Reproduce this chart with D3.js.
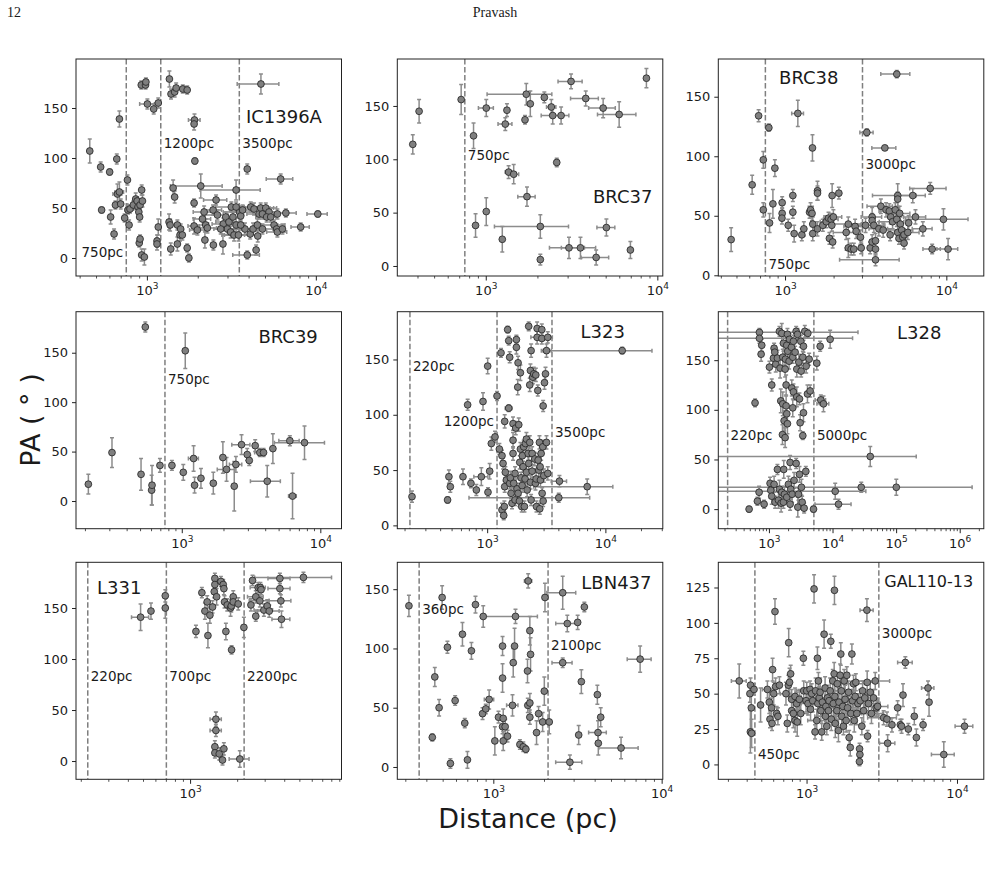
<!DOCTYPE html>
<html>
<head>
<meta charset="utf-8">
<script src="https://cdn.jsdelivr.net/npm/d3@7"></script>
<style>
  body { margin: 0; background: #fff; }
  text { font-family: "DejaVu Sans", sans-serif; fill: #1a1a1a; }
  .serif { font-family: "Liberation Serif", "DejaVu Serif", serif; }
</style>
</head>
<body>
<svg id="fig" width="990" height="871"></svg>
<script>
// each point: [distance (pc), PA (deg), distance error, PA error]
var ic1396a = [
  [456,107,0,12],[529,91,0,5],[598,86,0,3],[659,99,0,5],[683,139,0,8],
  [536,48,0,3],[606,41,0,7],[635,24,0,5],[647,53,0,4],[665,64,40,10],[683,66,40,10],[695,54,0,5],
  [734,40,0,4],[762,78,0,5],[768,48,30,4],[779,33,0,5],[789,49,40,4],[826,53,60,4],[853,59,0,6],
  [870,57,0,4],[880,51,0,4],[890,46,0,5],[900,41,0,5],[905,53,0,6],[925,68,0,5],[935,57,0,6],
  [895,15,0,4],[905,19,0,4],[925,3,0,6],[960,1,0,8],
  [920,173,0,4],[975,173,0,4],[980,176,0,4],[1000,154,100,5],[1090,149,0,5],[1160,155,0,5],
  [1140,17,0,6],[1140,14,0,6],[1160,31,0,8],
  [1350,179,0,8],[1380,164,0,5],[1450,166,0,5],[1480,170,0,5],[1620,169,0,4],[1720,168,0,4],
  [1900,138,150,6],[1890,134,0,6],[1910,97,0,3],
  [1420,70,0,8],[1450,61,0,6],[1890,55,0,4],[2070,72,700,12],[2550,58,400,5],[3350,68,1300,10],
  [3900,89,0,5],[6150,79,1100,5],[10200,44,1400,3],[8080,31,1000,4],[4700,174,1300,10],
  [3900,3,700,4],[4400,8,0,5],[4500,22,0,6],[1720,10,0,4],[1760,0,0,4],
  [1344,36,0,8],[1363,33,0,6],[1375,9,0,6],[1505,14,0,7],[1505,33,0,5],[1560,23,0,6],[1574,29,0,5],[1610,23,0,5],
  [1889,32,150,8],[1977,28,200,5],[2118,39,250,6],[2167,46,300,6],[2215,33,0,6],[2265,30,300,5],[2190,18,0,8],
  [2458,13,0,5],[2448,48,300,5],[2597,43,400,5],[2800,14,0,10],[2815,34,400,6],[2975,29,500,6],[3110,26,0,6],
  [3258,23,500,6],[3140,51,600,5],[3350,33,0,7],[3460,23,600,6],[3510,46,700,6],[3568,42,0,6],[3660,48,600,5],
  [3780,29,700,6],[4060,24,0,5],[4090,51,800,5],[4278,49,0,6],[4220,29,600,6],[4480,33,0,6],[4580,44,700,5],
  [4686,50,900,5],[4800,44,0,5],[5020,50,800,5],[5250,46,0,5],[5080,41,700,5],[5370,41,0,5],[5620,33,900,5],
  [5820,29,0,5],[5880,26,800,5],[6300,29,0,5],[5880,44,0,5],[6600,45,1000,4],[4800,29,1000,5],
  [3568,33,0,5],[2717,29,0,5],[2910,41,0,5],[3040,36,500,5],[3210,41,0,5],[3350,51,0,5]
];

var brc37 = [
  [373,114,0,9],[406,145,0,11],[714,156,0,14],[843,122,0,12],[866,38,0,11],[1000,148,100,8],[1000,51,0,13],
  [1240,25,0,12],[1291,133,120,6],[1320,146,0,6],[1350,88,60,6],[1445,86,100,9],[1682,137,0,4],
  [1711,161,700,10],[1806,152,0,12],[1727,65,200,9],[2066,37,950,11],[2066,6,0,5],[2180,158,0,5],
  [2395,149,150,7],[2440,141,350,8],[2575,97,0,4],[2730,141,300,8],[3120,173,500,7],[3035,17,700,10],
  [3540,17,800,10],[3800,157,700,7],[4370,8,800,7],[4800,148,850,9],[5015,36,600,8],[5950,142,1500,12],
  [6920,15,0,8],[8580,176,0,9]
];

var brc38 = [
  [460,30,0,10],[621,76,0,8],[681,134,0,5],[728,97,0,7],[728,55,0,6],[788,124,0,3],[796,44,0,8],[835,60,0,12],
  [859,90,0,7],[953,61,0,5],[953,52,0,5],[950,48,0,5],[1039,42,0,5],[1110,67,0,5],[1110,53,0,5],[1131,35,0,7],
  [1192,136,100,11],[1262,34,0,5],[1299,39,0,6],[1409,53,0,5],[1430,55,0,6],[1469,107,0,11],[1460,52,0,6],
  [1475,43,0,6],[1475,35,0,6],[1578,71,0,8],[1578,69,0,6],[1578,39,0,6],[1703,42,0,5],[1790,45,150,5],
  [1848,48,0,5],[1871,31,0,5],[1917,47,200,5],[1935,42,0,5],[1945,67,0,10],[1980,49,250,6],[1960,28,0,5],
  [2141,69,0,5],[2377,36,400,6],[2450,43,500,6],[2450,23,0,8],[2553,22,0,5],[2650,22,300,5],[2700,41,400,6],
  [2740,37,0,6],[2915,32,0,6],[2945,23,0,5],[3134,42,500,6],[3190,120,300,3],[3347,23,0,5],[3443,49,500,8],
  [3443,46,0,6],[3443,28,0,6],[3530,42,600,6],[3613,13,1450,5],[3613,22,0,5],[3613,29,0,6],[3791,39,500,6],
  [3900,58,700,6],[4030,38,0,6],[4128,107,700,2],[4200,55,0,6],[4400,54,600,6],[4450,34,0,5],[4490,49,0,6],
  [4610,45,800,6],[4790,55,0,6],[4895,169,1000,3],[4895,47,0,6],[4960,67,1500,10],[4960,64,0,6],[4960,36,0,6],
  [5050,31,0,5],[5100,52,800,6],[5150,43,0,6],[5250,38,900,6],[5333,32,0,5],[5430,34,0,5],[5727,36,1000,6],
  [5800,44,0,6],[6150,67,1200,6],[6390,49,1000,6],[5430,27,0,5],[7100,39,1000,6],[7887,73,2000,5],
  [8110,22,1000,4],[9530,47,4000,9],[10180,22,1500,9]
];

var brc39 = [
  [210,17,0,10],[311,49,0,15],[541,176,0,5],[504,27,0,16],[601,11,0,15],[605,16,0,20],[690,36,0,7],
  [842,36,0,5],[1017,29,0,8],[1051,152,0,18],[1207,43,100,13],[1227,16,0,8],[1364,23,0,10],[1675,18,0,11],
  [1964,44,0,16],[2088,32,300,12],[2372,15,0,25],[2438,37,250,8],[2677,57,400,10],[2943,47,0,6],
  [3044,41,0,5],[3360,56,0,6],[3630,49,300,4],[3860,49,0,4],[4104,20,1000,16],[4508,53,0,15],
  [5976,61,1000,5],[6250,5,400,23],[7625,59,3000,17]
];

var l323 = [
  [229,26,0,5],[458,23,0,3],[470,44,0,6],[483,35,0,5],[618,44,0,7],[677,109,0,5],[722,38,0,4],[802,32,0,5],
  [884,44,120,8],[913,112,0,8],[1000,144,0,7],[1006,30,0,4],[1040,49,0,7],[1074,74,0,6],[1154,80,0,5],
  [1200,117,0,4],[1256,69,0,5],[1297,156,0,4],[1322,63,0,5],[1349,56,0,5],[1322,14,0,6],[1367,9,0,4],
  [1384,17,0,5],[1393,35,0,5],[1393,94,0,6],[1411,48,0,5],[1439,41,0,5],[1476,177,0,3],[1507,167,0,4],
  [1536,152,0,5],[1507,106,100,3],[1536,38,0,5],[1556,43,0,6],[1577,29,0,5],[1607,20,0,5],[1639,92,0,6],
  [1639,77,0,7],[1639,65,0,6],[1660,38,0,5],[1705,47,0,6],[1705,23,0,5],[1727,88,0,6],[1750,168,0,4],
  [1750,161,0,6],[1772,33,0,5],[1796,125,0,7],[1808,29,0,5],[1808,147,0,6],[1832,91,0,6],[1856,22,0,5],
  [1868,57,0,6],[1892,138,0,7],[1892,69,0,6],[1917,43,150,5],[1942,17,0,5],[1955,36,0,6],[1967,63,0,6],
  [1994,53,0,5],[2019,71,0,6],[2046,17,0,5],[2073,42,0,6],[2086,74,0,6],[2128,78,0,6],[2128,48,0,6],
  [2157,32,0,6],[2200,65,0,6],[2224,56,0,6],[2270,75,0,6],[2224,180,0,4],[2270,127,0,6],[2300,140,0,6],
  [2300,39,0,6],[2330,158,0,6],[2330,23,0,5],[2377,49,0,6],[2377,65,0,6],[2408,134,0,6],[2455,137,0,6],
  [2505,60,0,6],[2537,38,0,6],[2554,136,0,6],[2570,42,0,6],[2588,17,0,5],[2620,178,0,6],[2620,170,300,6],
  [2655,122,0,5],[2672,59,0,6],[2706,50,0,6],[2742,75,0,6],[2760,15,0,5],[2778,53,0,6],[2796,41,0,6],
  [2833,65,0,6],[2870,177,0,5],[2870,169,0,5],[2889,29,0,5],[2927,71,0,6],[2946,22,0,5],[2946,108,0,5],
  [2985,45,0,6],[3024,129,0,6],[3084,137,0,6],[3145,158,300,6],[3145,75,0,6],[3224,170,300,5],[3224,47,0,6],
  [4047,40,600,5],[3995,25,3300,4],[6950,35,4500,7],[13740,158,10800,3]
];

var l328 = [
  [479,0,0,3],[594,107,0,4],[647,8,0,4],[688,17,0,6],[696,178,24000,4],[696,172,19600,5],[757,165,0,6],
  [740,156,0,7],[824,5,0,4],[1000,143,60,6],[1088,125,0,6],[1024,26,0,6],[1049,19,0,8],[1088,13,0,8],
  [1156,152,0,8],[1184,162,0,5],[1184,25,0,8],[1213,158,0,6],[1228,7,0,6],[1258,146,0,8],[1336,40,0,5],
  [1336,152,0,8],[1386,9,0,8],[1437,20,0,9],[1437,179,0,5],[1472,142,0,10],[1508,109,0,12],[1527,6,0,9],
  [1564,177,0,10],[1564,17,0,6],[1602,75,0,10],[1622,153,0,8],[1622,106,0,12],[1661,167,0,8],[1661,7,0,6],
  [1681,40,0,9],[1702,89,0,10],[1723,15,0,8],[1765,141,0,8],[1765,72,0,10],[1786,151,0,6],[1830,104,0,10],
  [1830,125,0,10],[1874,96,0,8],[1874,165,0,8],[1874,12,0,6],[1919,176,0,6],[1919,86,0,10],[1942,159,0,6],
  [1990,25,0,8],[2038,149,0,8],[2063,171,0,6],[2114,47,0,7],[2114,5,0,6],[2165,20,0,10],[2218,163,0,6],
  [2245,122,0,8],[2272,15,0,8],[2328,153,0,6],[2328,102,0,9],[2385,169,0,6],[2385,118,0,8],[2443,29,0,8],
  [2535,158,0,6],[2631,46,0,5],[2631,179,0,5],[2694,141,0,8],[2694,113,0,10],[2760,176,0,6],[2794,2,0,10],
  [2862,15,0,6],[2897,148,0,8],[2968,111,0,6],[2968,35,0,8],[3040,87,0,8],[3114,169,0,6],[3152,139,0,6],
  [3190,22,0,8],[3268,7,0,6],[3348,153,0,6],[3430,164,0,6],[3430,97,0,9],[3513,1,0,5],[3348,74,0,4],
  [3600,179,0,6],[3733,38,0,5],[3778,144,0,7],[3964,116,0,9],[4012,177,0,4],[4210,151,0,6],[4365,119,0,6],
  [4935,0,0,3],[5560,147,500,7],[6280,164,0,5],[6430,110,1200,5],[7080,106,1500,8],[9010,171,0,9],
  [10820,18,22000,8],[12200,5,7000,5],[27800,22,0,5],[38500,53,165000,10],[98900,22,1440000,8]
];

var l331 = [
  [479,141,60,13],[558,147,0,8],[689,162,0,6],[689,150,0,10],[1082,127,0,6],[1181,165,0,5],[1235,147,0,8],
  [1277,156,0,6],[1291,123,0,12],[1329,143,0,8],[1382,151,0,6],[1417,166,0,6],[1430,179,0,5],[1430,173,0,6],
  [1467,161,0,8],[1563,176,80,5],[1617,173,0,5],[1633,169,0,6],[1649,156,0,6],[1682,127,0,8],[1716,153,0,6],
  [1802,150,0,8],[1820,152,0,6],[1874,161,0,6],[1874,156,0,6],[2017,154,0,6],[1829,109,0,4],[2192,131,0,10],
  [1452,41,120,7],[1452,30,120,6],[1430,14,0,6],[1430,8,0,5],[1525,7,0,6],[1600,1,0,5],[1633,12,0,6],
  [2065,2,300,8],[2432,153,0,6],[2490,177,0,5],[2612,161,300,6],[2612,142,0,5],[2705,170,300,5],
  [2773,157,400,6],[2795,170,0,5],[2825,168,0,5],[2944,148,400,6],[3091,152,0,6],[3184,147,500,6],
  [3725,179,600,5],[3725,169,600,5],[3780,157,600,6],[3814,139,500,8],[5270,180,2700,5]
];

var lbn437 = [
  [313,136,0,9],[431,25,0,3],[446,76,0,8],[473,50,0,7],[493,143,0,10],[530,101,0,5],[552,3,0,4],[589,56,0,4],
  [651,112,0,10],[672,37,0,4],[697,6,0,7],[736,98,0,7],[778,137,0,7],[857,45,0,5],[865,127,0,9],[896,49,0,4],
  [938,57,60,8],[1014,22,0,12],[1066,42,0,5],[1127,102,0,8],[1127,75,0,12],[1127,34,0,6],[1137,41,0,8],
  [1137,22,0,8],[1168,34,0,6],[1206,26,0,5],[1291,52,100,9],[1304,88,0,12],[1328,102,0,15],[1345,127,470,6],
  [1429,19,0,4],[1496,17,0,4],[1550,15,0,3],[1600,157,80,6],[1585,81,0,10],[1592,52,0,6],[1637,115,0,12],
  [1653,95,0,14],[1637,54,0,8],[1637,42,0,6],[1794,29,0,10],[1845,45,0,6],[1950,38,0,8],[1995,64,0,12],
  [2013,143,0,12],[2134,38,0,10],[2566,147,500,14],[2733,121,400,7],[2566,88,350,4],[3148,122,0,6],
  [3450,135,0,4],[3311,72,0,10],[3193,27,0,8],[2831,4,500,6],[4122,61,0,8],[4158,29,500,10],[4176,20,0,10],
  [4315,42,0,8],[5700,16,1500,9],[7400,91,1200,11]
];

var gal110 = [
  [354,59,40,12],[421,56,0,5],[417,50,0,6],[426,40,0,15],[420,23,0,15],[428,22,0,10],[444,53,0,4],[491,42,0,12],
  [545,53,40,6],[561,44,0,8],[567,32,0,6],[581,40,0,7],[590,67,0,8],[585,29,0,5],[612,108,0,9],[618,55,0,6],
  [600,50,0,8],[628,36,0,5],[640,34,0,6],[655,56,0,6],[724,50,60,8],[739,29,0,6],[751,56,0,7],[755,86,0,10],
  [765,58,0,10],[778,64,0,6],[790,46,0,7],[790,38,0,8],[811,36,0,10],[832,31,0,8],[832,48,80,6],[853,43,0,8],
  [860,30,0,10],[889,46,0,7],[908,36,100,8],[945,75,0,5],[950,52,100,7],[985,45,0,8],[995,52,0,6],
  [1015,43,100,8],[1047,53,120,6],[1055,39,0,8],[1074,50,0,7],[1090,45,150,8],[1113,124,0,10],[1130,23,0,5],
  [1140,52,0,9],[1160,31,150,8],[1172,75,0,8],[1180,43,0,9],[1190,59,0,6],[1205,47,150,8],[1221,51,0,10],
  [1235,38,0,8],[1252,23,0,6],[1265,44,200,9],[1298,92,0,10],[1318,54,0,8],[1325,34,200,9],[1335,41,0,8],
  [1353,27,0,6],[1365,47,200,9],[1388,38,0,10],[1400,45,0,8],[1424,52,250,9],[1438,87,0,5],[1450,32,0,8],
  [1483,59,0,8],[1495,43,250,10],[1514,64,0,8],[1521,123,0,10],[1530,48,0,8],[1540,29,0,10],[1577,38,300,9],
  [1590,57,0,8],[1617,24,0,8],[1630,44,300,10],[1660,63,0,8],[1676,78,0,8],[1690,52,300,9],[1700,34,0,8],
  [1730,41,300,10],[1745,27,0,6],[1765,59,0,8],[1790,46,350,10],[1820,31,0,8],[1838,63,0,6],[1860,40,350,9],
  [1888,51,0,8],[1905,19,0,5],[1937,12,0,6],[1955,36,350,8],[1986,78,0,7],[2005,45,0,8],[2036,57,400,6],
  [2060,31,0,8],[2089,48,400,8],[2110,58,0,6],[2143,36,400,8],[2180,43,0,7],[2234,11,0,4],[2245,7,0,4],
  [2230,2,0,3],[2256,45,400,8],[2313,27,0,6],[2340,52,0,7],[2376,38,450,8],[2420,47,0,6],[2500,109,250,8],
  [2510,58,0,8],[2525,20,0,4],[2560,43,500,8],[2630,51,0,7],[2680,36,500,7],[2767,47,0,6],[2839,59,700,6],
  [2880,40,0,6],[2945,41,500,6],[3228,33,700,5],[3397,32,0,5],[3433,15,400,6],[3667,28,0,5],[4000,40,0,5],
  [4170,28,0,4],[4343,49,0,8],[4500,72,500,4],[4250,27,0,5],[4712,25,0,4],[5164,34,0,6],[5330,19,0,6],
  [5904,28,0,4],[6370,54,600,5],[6471,44,0,10],[8110,7,1400,9],[11140,27,1500,5]
];

// panel setup: names, axis ranges, tick values, marked distances
var panelNames = ["IC1396A","BRC37","BRC38","BRC39","L323","L328","L331","LBN437","GAL110-13"];
var panelData = [ic1396a, brc37, brc38, brc39, l323, l328, l331, lbn437, gal110];
var xDomains = [[378,14090],[303,10690],[383,16950],[171,14100],[172,30300],[157,2350000],[185,9230],[267,10090],[257,14960]];
var yDomains = [[-18,199],[-9.4,194],[-0.6,181.7],[-28,191.5],[-3,193.2],[-19.7,198.8],[-17.9,194.8],[-10.4,172.7],[-10.5,142.8]];
var yTickSets = [[0,50,100,150],[0,50,100,150],[0,50,100,150],[0,50,100,150],[0,50,100,150],[0,50,100,150],[0,50,100,150],[0,50,100,150],[0,25,50,75,100,125]];
var markLines = [[750,1200,3500],[750],[750,3000],[750],[220,1200,3500],[220,5000],[220,700,2200],[360,2100],[450,3000]];
// label: [distance line, PA at which the text sits, side of the line]
var markLabels = [
  [[750,6,"left"],[1200,115,"right"],[3500,115,"right"]],
  [[750,104,"right"]],
  [[750,9,"right"],[3000,93,"right"]],
  [[750,123,"right"]],
  [[220,144,"right"],[1200,94,"left"],[3500,84,"right"]],
  [[220,74,"right"],[5000,74,"right"]],
  [[220,83,"right"],[700,83,"right"],[2200,83,"right"]],
  [[360,133,"right"],[2100,103,"right"]],
  [[450,7.5,"right"],[3000,93,"right"]]
];
// name position in axes fraction (left x, centre y from top)
var namePos = [[0.64,0.267],[0.737,0.635],[0.229,0.088],[0.687,0.117],[0.69,0.092],[0.673,0.098],[0.079,0.117],[0.693,0.095],[0.625,0.09]];

var svg = d3.select("#fig");
var colX = [76, 397.3, 718.3], rowY = [59, 311.7, 562.3];
var W = 265.5, H = 217;
var barColor = "#8c8c8c", dark = "#222";

// header
svg.append("text").attr("class", "serif").attr("x", 7).attr("y", 17).attr("font-size", 14).text("12");
svg.append("text").attr("class", "serif").attr("x", 495).attr("y", 17).attr("font-size", 14)
  .attr("text-anchor", "middle").text("Pravash");

panelNames.forEach(function(name, i) {
  var x0 = colX[i % 3], y0 = rowY[Math.floor(i / 3)];
  var data = panelData[i];
  var g = svg.append("g").attr("transform", "translate(" + x0 + "," + y0 + ")");

  var x = d3.scaleLog().domain(xDomains[i]).range([0, W]);
  var y = d3.scaleLinear().domain(yDomains[i]).range([H, 0]);

  g.append("clipPath").attr("id", "clip" + i)
    .append("rect").attr("width", W).attr("height", H);
  var plot = g.append("g").attr("clip-path", "url(#clip" + i + ")");

  // dashed distance markers
  plot.selectAll(".vline").data(markLines[i]).enter().append("line")
    .attr("x1", function(d) { return x(d); }).attr("x2", function(d) { return x(d); })
    .attr("y1", 0).attr("y2", H)
    .attr("stroke", "#7f7f7f").attr("stroke-width", 1.5).attr("stroke-dasharray", "5.5,2.5");

  var xmin = xDomains[i][0];
  function lo(d) { return Math.max(d[0] - d[2], xmin * 0.3); }
  function hi(d) { return d[0] + d[2]; }

  var bars = plot.append("g").attr("stroke", barColor).attr("stroke-width", 1.5);
  var xe = data.filter(function(d) { return d[2] > 0; });
  var ye = data.filter(function(d) { return d[3] > 0; });

  bars.selectAll(".xe").data(xe).enter().append("line")
    .attr("x1", function(d) { return x(lo(d)); }).attr("x2", function(d) { return x(hi(d)); })
    .attr("y1", function(d) { return y(d[1]); }).attr("y2", function(d) { return y(d[1]); });
  bars.selectAll(".xc1").data(xe).enter().append("line")
    .attr("x1", function(d) { return x(lo(d)); }).attr("x2", function(d) { return x(lo(d)); })
    .attr("y1", function(d) { return y(d[1]) - 2; }).attr("y2", function(d) { return y(d[1]) + 2; });
  bars.selectAll(".xc2").data(xe).enter().append("line")
    .attr("x1", function(d) { return x(hi(d)); }).attr("x2", function(d) { return x(hi(d)); })
    .attr("y1", function(d) { return y(d[1]) - 2; }).attr("y2", function(d) { return y(d[1]) + 2; });

  bars.selectAll(".ye").data(ye).enter().append("line")
    .attr("x1", function(d) { return x(d[0]); }).attr("x2", function(d) { return x(d[0]); })
    .attr("y1", function(d) { return y(d[1] - d[3]); }).attr("y2", function(d) { return y(d[1] + d[3]); });
  bars.selectAll(".yc1").data(ye).enter().append("line")
    .attr("x1", function(d) { return x(d[0]) - 2; }).attr("x2", function(d) { return x(d[0]) + 2; })
    .attr("y1", function(d) { return y(d[1] - d[3]); }).attr("y2", function(d) { return y(d[1] - d[3]); });
  bars.selectAll(".yc2").data(ye).enter().append("line")
    .attr("x1", function(d) { return x(d[0]) - 2; }).attr("x2", function(d) { return x(d[0]) + 2; })
    .attr("y1", function(d) { return y(d[1] + d[3]); }).attr("y2", function(d) { return y(d[1] + d[3]); });

  plot.selectAll(".pt").data(data).enter().append("circle")
    .attr("cx", function(d) { return x(d[0]); })
    .attr("cy", function(d) { return y(d[1]); })
    .attr("r", 3.4)
    .attr("fill", "#7f7f7f").attr("stroke", dark).attr("stroke-width", 0.8);

  // distance labels
  g.selectAll(".mlab").data(markLabels[i]).enter().append("text")
    .attr("x", function(d) { return d[2] === "left" ? x(d[0]) - 3 : x(d[0]) + 3; })
    .attr("y", function(d) { return y(d[1]); })
    .attr("dy", "0.35em")
    .attr("text-anchor", function(d) { return d[2] === "left" ? "end" : "start"; })
    .attr("font-size", 13.5)
    .text(function(d) { return d[0] + "pc"; });

  // panel name
  g.append("text")
    .attr("x", W * namePos[i][0]).attr("y", H * namePos[i][1]).attr("dy", "0.35em")
    .attr("font-size", name.length > 7 ? 16 : 18)
    .text(name);

  // spines
  g.append("rect").attr("width", W).attr("height", H)
    .attr("fill", "none").attr("stroke", dark).attr("stroke-width", 1);

  // y axis
  var yAxis = g.append("g").call(d3.axisLeft(y).tickValues(yTickSets[i]).tickSize(4).tickPadding(4));
  yAxis.select(".domain").remove();
  yAxis.selectAll("line").attr("stroke", dark);
  yAxis.selectAll("text").attr("font-size", 13).attr("font-family", "DejaVu Sans, sans-serif").attr("fill", "#1a1a1a");

  // x axis: decades + minor ticks
  var lo10 = Math.floor(Math.log10(xDomains[i][0])), hi10 = Math.ceil(Math.log10(xDomains[i][1]));
  var majors = [], minors = [];
  for (var e = lo10; e <= hi10; e++) {
    var base = Math.pow(10, e);
    if (base >= xDomains[i][0] && base <= xDomains[i][1]) majors.push(e);
    for (var k = 2; k <= 9; k++) {
      var v = k * base;
      if (v >= xDomains[i][0] && v <= xDomains[i][1]) minors.push(v);
    }
  }
  var xa = g.append("g").attr("transform", "translate(0," + H + ")");
  xa.selectAll(".minor").data(minors).enter().append("line")
    .attr("x1", function(d) { return x(d); }).attr("x2", function(d) { return x(d); })
    .attr("y1", 0).attr("y2", 2.5).attr("stroke", dark).attr("stroke-width", 0.8);
  xa.selectAll(".major").data(majors).enter().append("line")
    .attr("x1", function(e) { return x(Math.pow(10, e)); }).attr("x2", function(e) { return x(Math.pow(10, e)); })
    .attr("y1", 0).attr("y2", 4.5).attr("stroke", dark).attr("stroke-width", 1);
  var lab = xa.selectAll(".xlab").data(majors).enter().append("text")
    .attr("x", function(e) { return x(Math.pow(10, e)); })
    .attr("y", 19)
    .attr("text-anchor", "middle")
    .attr("font-size", 13);
  lab.append("tspan").text("10");
  lab.append("tspan").attr("font-size", 9).attr("dy", -6).text(function(e) { return e; });
});

// shared axis titles
svg.append("text")
  .attr("transform", "translate(40,420) rotate(-90)")
  .attr("text-anchor", "middle").attr("font-size", 27)
  .text("PA ( \u00b0 )");
svg.append("text")
  .attr("x", 528).attr("y", 828)
  .attr("text-anchor", "middle").attr("font-size", 27)
  .text("Distance (pc)");
</script>
</body>
</html>
